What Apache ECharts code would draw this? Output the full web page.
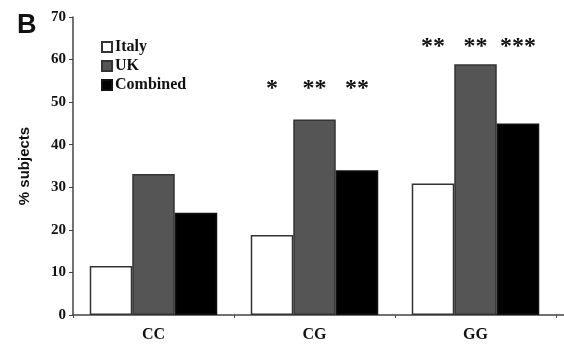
<!DOCTYPE html>
<html><head><meta charset="utf-8">
<script src="https://cdn.jsdelivr.net/npm/echarts@6/dist/echarts.min.js"></script>
<style>html,body{margin:0;padding:0;background:#fff}#c{width:564px;height:345px}</style>
</head><body><div id="c"></div>
<script>
const categories = ['CC', 'CG', 'GG'];
const italy = [11.5, 18.8, 30.9];
const uk = [33.1, 45.9, 58.9];
const combined = [24.0, 34.0, 45.0];
const italyStars = ['', '*', '**'];
const ukStars = ['', '**', '**'];
const combinedStars = ['', '**', '***'];
const starLevel = [0, 53.2, 63.0];
const yTicks = [0, 10, 20, 30, 40, 50, 60, 70];

const serif = 'Liberation Serif';
function marks(stars) {
  const out = [];
  stars.forEach((s, i) => {
    if (s) out.push({ coord: [categories[i], starLevel[i]], value: s });
  });
  return {
    symbol: 'rect', symbolSize: 0,
    label: { show: true, position: 'inside', formatter: p => p.value, fontFamily: serif, fontWeight: 'bold', fontSize: 24, color: '#111' },
    data: out, animation: false
  };
}
const chart = echarts.init(document.getElementById('c'), null, { renderer: 'canvas' });
chart.setOption({
  animation: false,
  backgroundColor: '#fff',
  legend: {
    orient: 'vertical', left: 96, top: 34, itemWidth: 10, itemHeight: 10, itemGap: 3, icon: 'rect',
    textStyle: { fontFamily: serif, fontWeight: 'bold', fontSize: 16, color: '#111', padding: [0, 0, 0, -2] },
    data: ['Italy', 'UK', 'Combined']
  },
  grid: { left: 73, right: 8, top: 17, bottom: 30, containLabel: false },
  xAxis: {
    type: 'category', data: categories,
    axisLine: { lineStyle: { color: '#444', width: 1.5 } },
    axisTick: { show: true, length: 3, lineStyle: { color: '#444' } },
    axisLabel: { margin: 12, fontFamily: serif, fontWeight: 'bold', fontSize: 16, color: '#111' }
  },
  yAxis: {
    type: 'value', min: 0, max: 70, interval: 10,
    name: '% subjects', nameLocation: 'middle', nameGap: 41,
    nameTextStyle: { fontFamily: 'Liberation Sans', fontWeight: 'bold', fontSize: 15, color: '#111' },
    splitLine: { show: false },
    axisLine: { show: true, lineStyle: { color: '#444', width: 1.5 } },
    axisTick: { show: true, length: 4, lineStyle: { color: '#444' } },
    axisLabel: { margin: 7, fontFamily: serif, fontWeight: 'bold', fontSize: 15, color: '#111',
      formatter: v => yTicks.includes(v) ? String(v) : '' }
  },
  series: [
    { name: 'Italy', type: 'bar', data: italy, barWidth: 42.5, barGap: '0%',
      itemStyle: { color: '#fff', borderColor: '#333', borderWidth: 1.5 }, markPoint: marks(italyStars) },
    { name: 'UK', type: 'bar', data: uk, barWidth: 42.5,
      itemStyle: { color: '#555', borderColor: '#333', borderWidth: 1.5 }, markPoint: marks(ukStars) },
    { name: 'Combined', type: 'bar', data: combined, barWidth: 42.5,
      itemStyle: { color: '#000', borderColor: '#111', borderWidth: 1.5 }, markPoint: marks(combinedStars) }
  ]
});
// extend the x axis line to the right edge, as in the reference
const y0 = chart.convertToPixel({ yAxisIndex: 0 }, 0);
const xEnd = chart.getWidth() - 8;
chart.setOption({
  graphic: [
    { type: 'text', left: 17, top: 12, style: { text: 'B', fontFamily: 'Liberation Sans', fontWeight: 'bold', fontSize: 27, fill: '#111' } },
    { type: 'line', shape: { x1: xEnd, y1: y0, x2: chart.getWidth(), y2: y0 }, style: { stroke: '#444', lineWidth: 1.5 } }
  ]
});
</script></body></html>
